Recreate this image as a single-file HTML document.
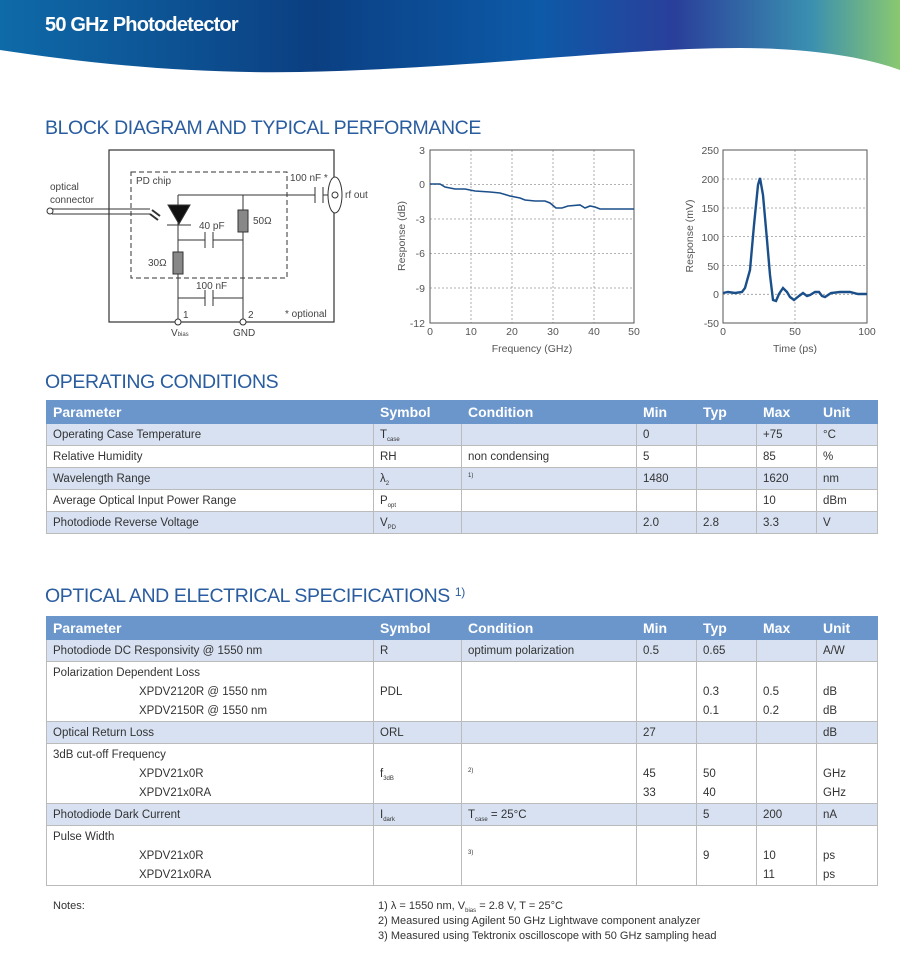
<!DOCTYPE html>
<html><head><meta charset="utf-8"><style>
body{margin:0;width:900px;height:957px;background:#fff;font-family:"Liberation Sans",sans-serif;position:relative;overflow:hidden}
.a{position:absolute;white-space:nowrap}
.h{color:#2a5d9f;font-size:19.5px;letter-spacing:-0.4px}
table{position:absolute;left:46px;border-collapse:collapse;font-size:11.5px;color:#333;table-layout:fixed;width:831px}
td,th{border:1px solid #bbb;padding:2px 6px 0;vertical-align:top;line-height:19px}
th{background:#6b96cc;color:#fff;text-align:left;font-size:14px;height:22px;line-height:22px;padding:0 6px;border-color:#6b96cc}
.s td{background:#d7e1f1}
sub{font-size:6px;line-height:0;vertical-align:-3px}
sup{line-height:0}
.i{padding-left:86px}
</style></head><body>
<svg class="a" style="left:0;top:0" width="900" height="80">
<defs><linearGradient id="g" x1="0" x2="1" y1="0" y2="0"><stop offset="0" stop-color="#0f6aa8"/><stop offset="0.35" stop-color="#0b3f82"/><stop offset="0.6" stop-color="#0d5aa8"/><stop offset="0.75" stop-color="#2a3f9a"/><stop offset="0.9" stop-color="#3a8fb0"/><stop offset="1" stop-color="#8ac870"/></linearGradient></defs>
<path d="M0 0H900V70C860 55 800 48 740 48C620 48 480 68 300 72C180 74 80 62 0 50Z" fill="url(#g)"/>
</svg>
<div class="a" style="left:45px;top:14px;color:#fff;font-size:20px;font-weight:bold;letter-spacing:-0.8px">50 GHz Photodetector</div>
<div class="a h" style="left:45px;top:117px">BLOCK DIAGRAM AND TYPICAL PERFORMANCE</div>
<svg class="a" style="left:0;top:140px" width="900" height="220" font-family="Liberation Sans" font-size="10" fill="#444">
<g transform="translate(0,-140)" stroke="#333" fill="none">
<rect x="109" y="150" width="225" height="172" stroke-width="1.2"/>
<rect x="131" y="172" width="156" height="106" stroke-dasharray="5,3"/>
<path d="M52 209H150M52 214H150M178 195H315M323 195H334M178 195V228M178 228V252M178 240H205M213 240H243M243 195V240M178 272V322M243 240V322M178 298H205M213 298H243M205 290V306M213 290V306M205 232V248M213 232V248M315 187V203M323 187V203"/>
<circle cx="50" cy="211" r="3" fill="#fff"/>
<circle cx="178" cy="322" r="3" fill="#fff"/><circle cx="243" cy="322" r="3" fill="#fff"/>
<ellipse cx="335" cy="195" rx="7" ry="18" fill="#fff"/><circle cx="335" cy="195" r="3"/>
<path d="M168 205H190L179 224Z" fill="#111"/><path d="M167 225H191"/>
<path d="M152 210L160 216M150 214L158 220" stroke-width="2"/>
<rect x="238" y="210" width="10" height="22" fill="#888"/>
<rect x="173" y="252" width="10" height="22" fill="#888"/>
</g>
<g transform="translate(0,-140)">
<text x="50" y="190">optical</text><text x="50" y="203">connector</text>
<text x="136" y="184">PD chip</text><text x="199" y="229">40 pF</text>
<text x="253" y="224">50Ω</text><text x="148" y="266">30Ω</text>
<text x="196" y="289">100 nF</text><text x="290" y="181">100 nF *</text>
<text x="345" y="198">rf out</text><text x="285" y="317">* optional</text>
<text x="183" y="318">1</text><text x="248" y="318">2</text>
<text x="171" y="336">V<tspan font-size="6">bias</tspan></text><text x="233" y="336">GND</text>
</g>
<g transform="translate(0,-140)" stroke="#999" stroke-dasharray="2,2" stroke-width="0.8">
<path d="M471 150V323M512 150V323M553 150V323M594 150V323M430 184.5H634M430 219H634M430 253.5H634M430 288H634"/>
<path d="M795 150V323M723 179H867M723 208H867M723 236.5H867M723 265.5H867M723 294.3H867"/>
</g>
<g transform="translate(0,-140)" fill="none">
<rect x="430" y="150" width="204" height="173" stroke="#555"/>
<rect x="723" y="150" width="144" height="173" stroke="#555"/>
<path d="M430 184L440 184L445 187L455 189L465 189L475 191L490 192L500 193L510 196L520 198L525 200L535 201L545 201L550 203L556 208L562 208L568 206L580 205L585 208L590 206L595 207L600 209L634 209" stroke="#1a4f8a" stroke-width="1.6"/>
<path d="M723 293L728 292L735 293L742 292L745 288L750 270L754 225L758 185L760 178L763 195L767 240L770 275L773 300L776 301L779 294L783 288L787 292L790 297L794 300L799 296L803 293L807 296L810 295L815 292L819 292L822 296L825 297L831 293L840 292L850 292L858 294L867 294" stroke="#1a4f8a" stroke-width="2.4"/>
</g>
<g transform="translate(0,-140)" font-size="10.5" fill="#555">
<text x="425" y="154" text-anchor="end">3</text><text x="425" y="188" text-anchor="end">0</text><text x="425" y="223" text-anchor="end">-3</text><text x="425" y="257" text-anchor="end">-6</text><text x="425" y="292" text-anchor="end">-9</text><text x="425" y="327" text-anchor="end">-12</text>
<text x="430" y="335" text-anchor="middle">0</text><text x="471" y="335" text-anchor="middle">10</text><text x="512" y="335" text-anchor="middle">20</text><text x="553" y="335" text-anchor="middle">30</text><text x="594" y="335" text-anchor="middle">40</text><text x="634" y="335" text-anchor="middle">50</text>
<text x="532" y="352" text-anchor="middle">Frequency (GHz)</text>
<text transform="translate(405,236) rotate(-90)" text-anchor="middle">Response (dB)</text>
<text x="719" y="154" text-anchor="end">250</text><text x="719" y="183" text-anchor="end">200</text><text x="719" y="212" text-anchor="end">150</text><text x="719" y="241" text-anchor="end">100</text><text x="719" y="270" text-anchor="end">50</text><text x="719" y="298" text-anchor="end">0</text><text x="719" y="327" text-anchor="end">-50</text>
<text x="723" y="335" text-anchor="middle">0</text><text x="795" y="335" text-anchor="middle">50</text><text x="867" y="335" text-anchor="middle">100</text>
<text x="795" y="352" text-anchor="middle">Time (ps)</text>
<text transform="translate(693,236) rotate(-90)" text-anchor="middle">Response (mV)</text>
</g>
</svg>
<div class="a h" style="left:45px;top:371px">OPERATING CONDITIONS</div>
<table style="top:400px">
<colgroup><col style="width:327px"><col style="width:88px"><col style="width:175px"><col style="width:60px"><col style="width:60px"><col style="width:60px"><col style="width:61px"></colgroup>
<tr><th>Parameter</th><th>Symbol</th><th>Condition</th><th>Min</th><th>Typ</th><th>Max</th><th>Unit</th></tr>
<tr class="s"><td>Operating Case Temperature</td><td>T<sub>case</sub></td><td></td><td>0</td><td></td><td>+75</td><td>°C</td></tr>
<tr><td>Relative Humidity</td><td>RH</td><td>non condensing</td><td>5</td><td></td><td>85</td><td>%</td></tr>
<tr class="s"><td>Wavelength Range</td><td>λ<sub>2</sub></td><td><sup style="font-size:6px">1)</sup></td><td>1480</td><td></td><td>1620</td><td>nm</td></tr>
<tr><td>Average Optical Input Power Range</td><td>P<sub>opt</sub></td><td></td><td></td><td></td><td>10</td><td>dBm</td></tr>
<tr class="s"><td>Photodiode Reverse Voltage</td><td>V<sub>PD</sub></td><td></td><td>2.0</td><td>2.8</td><td>3.3</td><td>V</td></tr>
</table>
<div class="a h" style="left:45px;top:585px">OPTICAL AND ELECTRICAL SPECIFICATIONS <span style="font-size:12px;vertical-align:top">1)</span></div>
<table style="top:616px">
<colgroup><col style="width:327px"><col style="width:88px"><col style="width:175px"><col style="width:60px"><col style="width:60px"><col style="width:60px"><col style="width:61px"></colgroup>
<tr><th>Parameter</th><th>Symbol</th><th>Condition</th><th>Min</th><th>Typ</th><th>Max</th><th>Unit</th></tr>
<tr class="s"><td>Photodiode DC Responsivity @ 1550 nm</td><td>R</td><td>optimum polarization</td><td>0.5</td><td>0.65</td><td></td><td>A/W</td></tr>
<tr><td>Polarization Dependent Loss<br><span class="i">XPDV2120R @ 1550 nm</span><br><span class="i">XPDV2150R @ 1550 nm</span></td><td><br>PDL</td><td></td><td></td><td><br>0.3<br>0.1</td><td><br>0.5<br>0.2</td><td><br>dB<br>dB</td></tr>
<tr class="s"><td>Optical Return Loss</td><td>ORL</td><td></td><td>27</td><td></td><td></td><td>dB</td></tr>
<tr><td>3dB cut-off Frequency<br><span class="i">XPDV21x0R</span><br><span class="i">XPDV21x0RA</span></td><td><br>f<sub>3dB</sub></td><td><br><sup style="font-size:6px">2)</sup></td><td><br>45<br>33</td><td><br>50<br>40</td><td></td><td><br>GHz<br>GHz</td></tr>
<tr class="s"><td>Photodiode Dark Current</td><td>I<sub>dark</sub></td><td>T<sub>case</sub> = 25°C</td><td></td><td>5</td><td>200</td><td>nA</td></tr>
<tr><td>Pulse Width<br><span class="i">XPDV21x0R</span><br><span class="i">XPDV21x0RA</span></td><td></td><td><br><sup style="font-size:6px">3)</sup></td><td></td><td><br>9</td><td><br>10<br>11</td><td><br>ps<br>ps</td></tr>
</table>
<div class="a" style="left:53px;top:900px;font-size:11px;color:#333">Notes:</div>
<div class="a" style="left:378px;top:899px;font-size:11px;color:#333;line-height:15px">1) λ = 1550 nm, V<sub>bias</sub> = 2.8 V, T = 25°C<br>2) Measured using Agilent 50 GHz Lightwave component analyzer<br>3) Measured using Tektronix oscilloscope with 50 GHz sampling head</div>
</body></html>
